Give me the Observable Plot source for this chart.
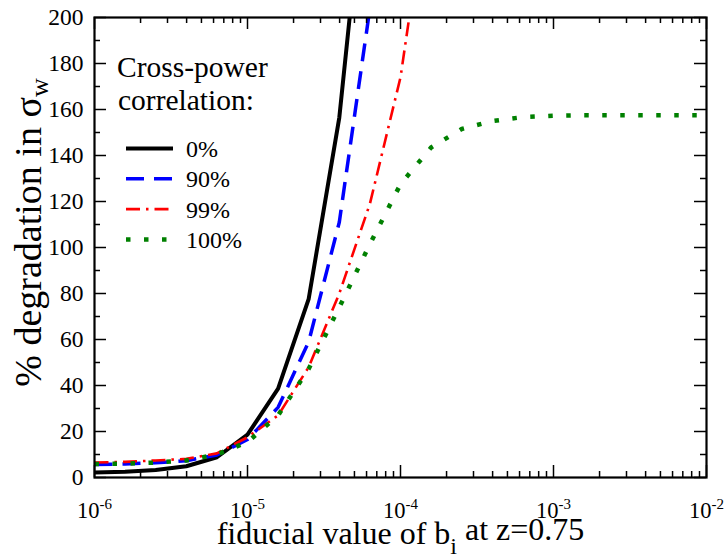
<!DOCTYPE html>
<html><head><meta charset="utf-8">
<script src="https://cdn.jsdelivr.net/npm/d3@7"></script>
<script src="https://cdn.jsdelivr.net/npm/@observablehq/plot@0.6"></script>
<style>
body{margin:0;background:#fff;}
#chart svg{display:block;}
#chart svg text{white-space:pre;font-family:"Liberation Serif","Times New Roman",serif !important;}
</style></head><body><div id="chart"></div>
<script>
// fiducial b_i values (log-spaced samples)
const bValues = [1e-6, 1.585e-6, 2.512e-6, 3.981e-6, 6.310e-6, 1e-5, 1.585e-5, 2.512e-5, 3.981e-5, 6.310e-5, 1e-4, 1.585e-4, 2.512e-4, 3.981e-4, 6.310e-4, 1e-3, 1.585e-3, 2.512e-3, 3.981e-3, 6.310e-3, 1e-2];
// % degradation in sigma_w for each cross-power correlation
const corr0   = [2.2, 2.5, 3.3, 4.9, 8.8, 18.6, 38.6, 77.7, 156.5, 285];
const corr90  = [5.6, 5.9, 6.4, 7.3, 9.8, 16.5, 30.5, 59, 111, 204, 370];
const corr99  = [6.5, 6.8, 7.4, 8.1, 10.5, 17.5, 27, 48, 80, 119, 174, 265];
const corr100 = [5.9, 6.0, 6.5, 7.4, 10.0, 15.4, 27, 47.3, 74, 101.5, 127.5, 143.5, 151.5, 155, 156.7, 157.3, 157.5, 157.5, 157.5, 157.5, 157.5];
const seriesNames = ["0%", "90%", "99%", "100%"];
const legendTitle = ["Cross-power", "correlation:"];
const xTickLabels = ["10^-6", "10^-5", "10^-4", "10^-3", "10^-2"];
const xMajorTicks = [1e-6, 1e-5, 1e-4, 1e-3, 1e-2];
const yMajorTicks = [0, 20, 40, 60, 80, 100, 120, 140, 160, 180, 200];
const yMinorTicks = [10, 30, 50, 70, 90, 110, 130, 150, 170, 190];
const xMinorTicks = [];
for (let d = 0; d < 4; d++) for (let m = 2; m <= 9; m++) xMinorTicks.push(m * xMajorTicks[d]);

const styles = [
  {stroke: "#000000", strokeWidth: 4, strokeDasharray: null},
  {stroke: "#0000ff", strokeWidth: 3.5, strokeDasharray: "18,10"},
  {stroke: "#ff0000", strokeWidth: 2.6, strokeDasharray: "14,6,2.5,6"},
  {stroke: "#008000", strokeWidth: 4.5, strokeDasharray: "4.5,13.5"}
];
const allSeries = [corr0, corr90, corr99, corr100];

const FONT = '"Liberation Serif", "Times New Roman", serif';
const W = 725, H = 558, mL = 94, mR = 19, mT = 17, mB = 81;
const innerW = W - mL - mR, innerH = H - mT - mB;
const majorLen = 12, minorLen = 6;

const lineMarks = allSeries.map((vals, k) =>
  Plot.line(vals.map((v, i) => ({x: bValues[i], y: v})), {
    x: "x", y: "y", clip: true,
    stroke: styles[k].stroke, strokeWidth: styles[k].strokeWidth,
    strokeDasharray: styles[k].strokeDasharray, strokeLinejoin: "miter", strokeLinecap: "butt"
  }));

const tickStyle = {stroke: "black", strokeWidth: 1.5};
const plot = Plot.plot({
  width: W, height: H,
  marginLeft: mL, marginRight: mR, marginTop: mT, marginBottom: mB,
  x: {type: "log", domain: [1e-6, 1e-2], axis: null},
  y: {domain: [0, 200], axis: null},
  style: {background: "white", color: "black"},
  marks: [
    ...lineMarks,
    Plot.tickX(xMajorTicks, {x: d => d, insetTop: innerH - majorLen, ...tickStyle}),
    Plot.tickX(xMajorTicks, {x: d => d, insetBottom: innerH - majorLen, ...tickStyle}),
    Plot.tickX(xMinorTicks, {x: d => d, insetTop: innerH - minorLen, ...tickStyle}),
    Plot.tickX(xMinorTicks, {x: d => d, insetBottom: innerH - minorLen, ...tickStyle}),
    Plot.tickY(yMajorTicks, {y: d => d, insetRight: innerW - majorLen, ...tickStyle}),
    Plot.tickY(yMajorTicks, {y: d => d, insetLeft: innerW - majorLen, ...tickStyle}),
    Plot.tickY(yMinorTicks, {y: d => d, insetRight: innerW - minorLen, ...tickStyle}),
    Plot.tickY(yMinorTicks, {y: d => d, insetLeft: innerW - minorLen, ...tickStyle}),
    Plot.frame({stroke: "black", strokeWidth: 2.2}),
    Plot.text(yMajorTicks, {y: d => d, text: d => String(d), frameAnchor: "left", textAnchor: "end", dx: -11, fontSize: 23.5, fontFamily: FONT, fill: "black"}),
    Plot.text(xMajorTicks, {x: d => d, text: (d, i) => xTickLabels[i], frameAnchor: "bottom", textAnchor: "middle", lineAnchor: "bottom", dy: 40, fontSize: 22.5, fontFamily: FONT, fill: "black"}),
    Plot.text(["fiducial value of b"], {text: d => d, frameAnchor: "bottom", textAnchor: "middle", lineAnchor: "bottom", dy: 66, fontSize: 32, fontFamily: FONT, fill: "black"}),
    Plot.text(["% degradation in σ"], {text: d => d, frameAnchor: "left", textAnchor: "middle", rotate: -90, lineAnchor: "bottom", dx: -54, dy: -15, fontSize: 38, fontFamily: FONT, fill: "black"})
  ]
});

const svg = d3.select(plot).attr("font-family", FONT);
svg.selectAll("text").each(function () {
  const t = this.textContent;
  const s = d3.select(this);
  if (t.includes("^")) {
    const [b, e] = t.split("^");
    s.text("");
    s.append("tspan").text(b);
    s.append("tspan").attr("dy", "-0.55em").attr("font-size", 15).text(e);
  } else if (t === "fiducial value of b") {
    s.append("tspan").attr("dy", "0.42em").attr("font-size", 24).text("i");
    s.append("tspan").attr("dy", "-0.42em").text(" at z=0.75");
  } else if (t === "% degradation in σ") {
    s.append("tspan").attr("dy", "0.3em").attr("font-size", 26).text("w");
  }
});

// in-plot legend
const lg = svg.append("g").attr("font-family", FONT).attr("text-anchor", "start");
legendTitle.forEach((t, i) => {
  lg.append("text").attr("x", 117 + i * 1).attr("y", 77 + i * 33).attr("font-size", 29.5).attr("fill", "black").text(t);
});
seriesNames.forEach((name, k) => {
  const yy = 148.5 + k * 30.3;
  lg.append("line").attr("x1", 126).attr("x2", 173).attr("y1", yy).attr("y2", yy)
    .attr("stroke", styles[k].stroke).attr("stroke-width", styles[k].strokeWidth)
    .attr("stroke-dasharray", styles[k].strokeDasharray);
  lg.append("text").attr("x", 186).attr("y", yy + 8.5).attr("font-size", 24).attr("fill", "black").text(name);
});

document.getElementById("chart").appendChild(plot);
</script>
</body></html>
